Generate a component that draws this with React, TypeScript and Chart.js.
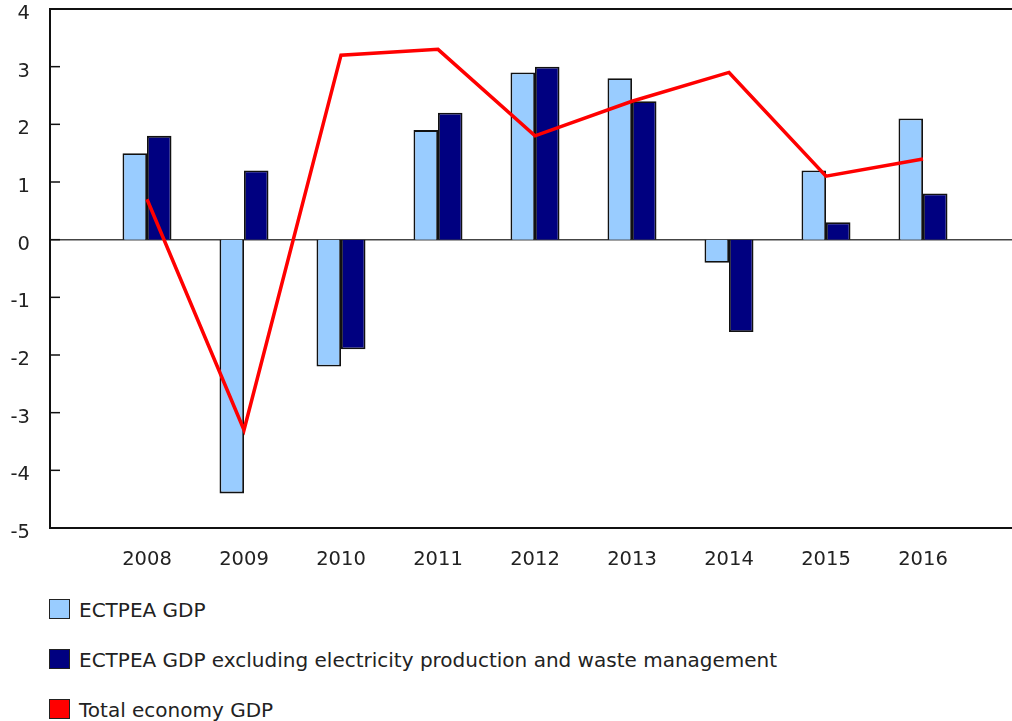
import React, { useEffect, useRef } from "react";
import { Chart, registerables } from "chart.js";

Chart.register(...registerables);

const years = [2008, 2009, 2010, 2011, 2012, 2013, 2014, 2015, 2016];
const ectpeaGdp = [1.5, -4.4, -2.2, 1.9, 2.9, 2.8, -0.4, 1.2, 2.1];
const ectpeaExcl = [1.8, 1.2, -1.9, 2.2, 3.0, 2.4, -1.6, 0.3, 0.8];
const totalGdp = [0.7, -3.3, 3.2, 3.3, 1.8, 2.4, 2.9, 1.1, 1.4];
const yTicks = [-5, -4, -3, -2, -1, 0, 1, 2, 3, 4];

const seriesNames = [
  "ECTPEA GDP",
  "ECTPEA GDP excluding electricity production and waste management",
  "Total economy GDP",
];
const seriesColors = ["#99CCFF", "#000080", "#FF0000"];

const FONT = "'DejaVu Sans', Verdana, sans-serif";

const axesPlugin = {
  id: "customAxes",
  beforeDatasetsDraw(chart: any) {
    const { ctx, chartArea } = chart;
    const y = chart.scales.y;
    const { left, right, top, bottom } = chartArea;
    ctx.save();
    // zero line
    ctx.strokeStyle = "#444";
    ctx.lineWidth = 1.5;
    const zy = y.getPixelForValue(0);
    ctx.beginPath();
    ctx.moveTo(left, zy);
    ctx.lineTo(right, zy);
    ctx.stroke();
    // frame lines
    ctx.strokeStyle = "#111";
    ctx.lineWidth = 2;
    ctx.beginPath();
    ctx.moveTo(right, top);
    ctx.lineTo(left, top);
    ctx.lineTo(left, bottom);
    ctx.lineTo(right, bottom);
    ctx.stroke();
    // inward ticks
    ctx.lineWidth = 1.5;
    for (const v of yTicks) {
      const py = y.getPixelForValue(v);
      ctx.beginPath();
      ctx.moveTo(left, py);
      ctx.lineTo(left + 10, py);
      ctx.stroke();
    }
    ctx.restore();
  },
};

export default function App() {
  const ref = useRef<HTMLCanvasElement | null>(null);

  useEffect(() => {
    if (!ref.current) return;
    const step = 97;
    const plotLeft = 50;
    const plotRight = 1012;
    const xMin = years[0] - 1;
    const xMax = xMin + (plotRight - plotLeft) / step;
    const chart = new Chart(ref.current, {
      type: "bar",
      data: {
        datasets: [
          {
            type: "line",
            label: seriesNames[2],
            data: years.map((yr, i) => ({ x: yr, y: totalGdp[i] })),
            borderColor: seriesColors[2],
            backgroundColor: seriesColors[2],
            borderWidth: 3.5,
            pointRadius: 0,
            tension: 0,
            order: 0,
          } as any,
          {
            type: "bar",
            label: seriesNames[0],
            data: years.map((yr, i) => ({ x: yr, y: ectpeaGdp[i] })),
            backgroundColor: seriesColors[0],
            borderColor: "#111",
            borderWidth: 1.8,
            categoryPercentage: 0.505,
            barPercentage: 1,
            order: 1,
          },
          {
            type: "bar",
            label: seriesNames[1],
            data: years.map((yr, i) => ({ x: yr, y: ectpeaExcl[i] })),
            backgroundColor: seriesColors[1],
            borderColor: "#111",
            borderWidth: 1.8,
            categoryPercentage: 0.505,
            barPercentage: 1,
            order: 1,
          },
        ],
      },
      options: {
        animation: false,
        responsive: false,
        maintainAspectRatio: false,
        layout: { padding: { top: 9, right: 0, left: 0, bottom: 0 } },
        plugins: {
          legend: { display: false },
          tooltip: { enabled: false },
        },
        scales: {
          x: {
            type: "linear",
            min: xMin,
            max: xMax,
            offset: false,
            grid: { display: false, drawTicks: false },
            border: { display: false },
            ticks: {
              stepSize: 1,
              includeBounds: false,
              autoSkip: false,
              maxRotation: 0,
              padding: 20,
              color: "#222",
              font: { family: FONT, size: 19.5 },
              callback: (v: any) =>
                Number.isInteger(v) && v >= years[0] && v <= years[years.length - 1] ? String(v) : "",
            },
            afterFit: (scale: any) => {
              scale.height = 62;
              scale.paddingLeft = 0;
              scale.paddingRight = 0;
            },
          },
          y: {
            min: -5,
            max: 4,
            grid: { display: false, drawTicks: false },
            border: { display: false },
            ticks: {
              stepSize: 1,
              padding: 20,
              labelOffset: 5,
              color: "#222",
              font: { family: FONT, size: 19.5, lineHeight: 0.9 },
            },
            afterFit: (scale: any) => {
              scale.width = 50;
              scale.paddingTop = 0;
              scale.paddingBottom = 0;
            },
          },
        },
      },
      plugins: [axesPlugin],
    });
    return () => chart.destroy();
  }, []);

  return (
    <div
      style={{
        position: "absolute",
        left: 0,
        top: 0,
        width: 1012,
        height: 721,
        overflow: "hidden",
        background: "#fff",
        fontFamily: FONT,
      }}
    >
      <canvas ref={ref} width={1012} height={590} style={{ display: "block", width: 1012, height: 590 }} />
      {seriesNames.map((name, i) => (
        <div key={name} style={{ position: "absolute", left: 0, top: 598 + 50 * i, height: 24, width: 1012 }}>
          <div
            style={{
              position: "absolute",
              left: 49,
              top: 1,
              width: 19,
              height: 18,
              background: seriesColors[i],
              border: "1px solid #222",
            }}
          />
          <div
            style={{
              position: "absolute",
              left: 79,
              top: 0,
              lineHeight: "24px",
              fontSize: 20,
              color: "#222",
              whiteSpace: "nowrap",
            }}
          >
            {name}
          </div>
        </div>
      ))}
    </div>
  );
}
